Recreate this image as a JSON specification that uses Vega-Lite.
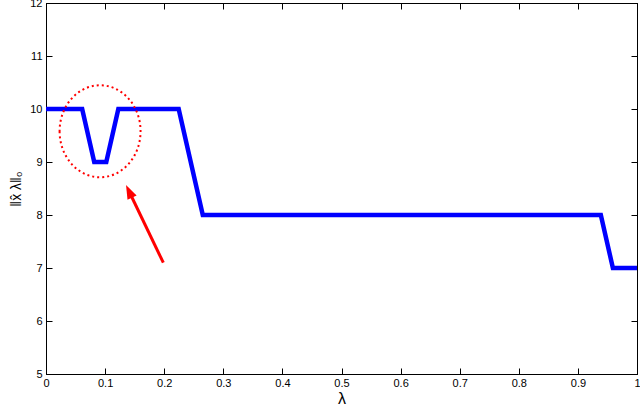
{
  "$schema": "https://vega.github.io/schema/vega-lite/v6.json",
  "width": 591,
  "height": 371,
  "autosize": {"type": "none"},
  "padding": {"left": 46, "top": 3, "right": 3, "bottom": 36},
  "config": {
    "font": "Liberation Sans",
    "view": {"stroke": "#000000", "strokeWidth": 1},
    "axis": {
      "labelFont": "Liberation Sans",
      "titleFont": "Liberation Sans",
      "labelColor": "#000000",
      "titleColor": "#000000",
      "labelFontSize": 11,
      "domainColor": "#000000",
      "tickColor": "#000000",
      "grid": false,
      "tickSize": -6,
      "titleFontWeight": "normal"
    }
  },
  "datasets": {
    "curve": [
      {"lambda": 0, "nnz": 10},
      {"lambda": 0.0612, "nnz": 10},
      {"lambda": 0.0816, "nnz": 9},
      {"lambda": 0.102, "nnz": 9},
      {"lambda": 0.1224, "nnz": 10},
      {"lambda": 0.2245, "nnz": 10},
      {"lambda": 0.2653, "nnz": 8},
      {"lambda": 0.9388, "nnz": 8},
      {"lambda": 0.9592, "nnz": 7},
      {"lambda": 1, "nnz": 7}
    ],
    "ellipse": [{"lambda": 0.0915, "nnz": 9.58}],
    "arrow": [{"lambda": 0.1985, "nnz": 7.1, "lambda2": 0.1427, "nnz2": 8.396}],
    "head": [{"lambda": 0.1354, "nnz": 8.566}]
  },
  "layer": [
    {
      "data": {"name": "curve"},
      "mark": {"type": "line", "color": "#0000FF", "strokeWidth": 4.5, "strokeJoin": "miter", "clip": true},
      "encoding": {
        "x": {
          "field": "lambda", "type": "quantitative",
          "scale": {"domain": [0, 1], "nice": false, "zero": false},
          "axis": {"orient": "bottom", "values": [0, 0.1, 0.2, 0.3, 0.4, 0.5, 0.6, 0.7, 0.8, 0.9, 1], "format": "~g", "title": "λ", "titleFontSize": 16, "titlePadding": 2, "labelPadding": 9, "labelFlush": false}
        },
        "y": {
          "field": "nnz", "type": "quantitative",
          "scale": {"domain": [5, 12], "nice": false, "zero": false},
          "axis": {"orient": "left", "values": [5, 6, 7, 8, 9, 10, 11, 12], "format": "~g", "title": "‖x̂ λ‖₀", "titleFontSize": 14, "titlePadding": 6, "labelPadding": 10, "labelFlush": false}
        }
      }
    },
    {
      "data": {"name": "curve"},
      "mark": {"type": "line", "opacity": 0},
      "encoding": {
        "x": {
          "field": "lambda", "type": "quantitative",
          "axis": {"orient": "top", "values": [0, 0.1, 0.2, 0.3, 0.4, 0.5, 0.6, 0.7, 0.8, 0.9, 1], "labels": false, "title": null}
        },
        "y": {
          "field": "nnz", "type": "quantitative",
          "axis": {"orient": "right", "values": [5, 6, 7, 8, 9, 10, 11, 12], "labels": false, "title": null}
        }
      }
    },
    {
      "data": {"name": "ellipse"},
      "mark": {
        "type": "point",
        "shape": "M -0.88 0 A 0.88 1 0 1 0 0.88 0 A 0.88 1 0 1 0 -0.88 0 Z",
        "size": 8464,
        "filled": false,
        "stroke": "#FF0000",
        "strokeWidth": 2,
        "strokeDash": [2, 3],
        "opacity": 1
      },
      "encoding": {
        "x": {"field": "lambda", "type": "quantitative", "axis": null},
        "y": {"field": "nnz", "type": "quantitative", "axis": null}
      }
    },
    {
      "data": {"name": "arrow"},
      "mark": {"type": "rule", "color": "#FF0000", "strokeWidth": 3},
      "encoding": {
        "x": {"field": "lambda", "type": "quantitative", "axis": null},
        "y": {"field": "nnz", "type": "quantitative", "axis": null},
        "x2": {"field": "lambda2"},
        "y2": {"field": "nnz2"}
      }
    },
    {
      "data": {"name": "head"},
      "mark": {
        "type": "point",
        "shape": "M 0 0 L 0.36 1 L -0.36 1 Z",
        "size": 784,
        "filled": true,
        "color": "#FF0000",
        "opacity": 1,
        "angle": -25.6
      },
      "encoding": {
        "x": {"field": "lambda", "type": "quantitative", "axis": null},
        "y": {"field": "nnz", "type": "quantitative", "axis": null}
      }
    }
  ],
  "resolve": {"axis": {"x": "independent", "y": "independent"}}
}
